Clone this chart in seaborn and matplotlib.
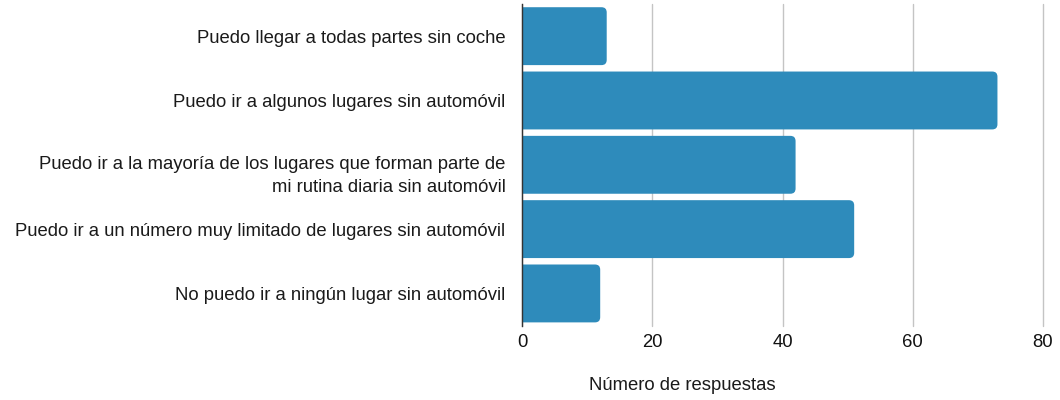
import matplotlib
matplotlib.use('Agg')
import matplotlib.pyplot as plt
import matplotlib.transforms as mtransforms
import seaborn as sns
import pandas as pd
from matplotlib.patches import FancyBboxPatch

# data
respuestas = [
    'Puedo llegar a todas partes sin coche',
    'Puedo ir a algunos lugares sin automóvil',
    'Puedo ir a la mayoría de los lugares que forman parte de\nmi rutina diaria sin automóvil',
    'Puedo ir a un número muy limitado de lugares sin automóvil',
    'No puedo ir a ningún lugar sin automóvil',
]
conteos = [13, 73, 42, 51, 12]
ticks_x = [0, 20, 40, 60, 80]

df = pd.DataFrame({'respuesta': respuestas, 'n': conteos})

sns.set_style('white')
plt.rcParams['font.family'] = ['Liberation Sans', 'DejaVu Sans']

fig = plt.figure(figsize=(10.6, 4), dpi=100)
ax = fig.add_axes([0.4925, 0.186, 0.4915, 0.804])

sns.barplot(data=df, y='respuesta', x='n', orient='h', color='#2e8bbb',
            saturation=1, width=0.9, ax=ax)

# swap the plain bars for ones with rounded right corners
bar_color = '#2e8bbb'
for p in list(ax.patches):
    x0, y0 = p.get_x(), p.get_y()
    w, h = p.get_width(), p.get_height()
    p.remove()
    rb = FancyBboxPatch((x0 - 2, y0), w + 2, h,
                        boxstyle='round,pad=0,rounding_size=0.8',
                        mutation_aspect=0.101, fc=bar_color, ec='none',
                        zorder=2, clip_on=True)
    ax.add_patch(rb)

ax.set_xlim(0, 80)
ax.set_ylim(4.5, -0.5)
ax.set_xticks(ticks_x)
ax.xaxis.grid(True, color='#c4c4c4', linewidth=1)
for gl in ax.get_xgridlines():
    gl.set_clip_on(False)
ax.set_axisbelow(True)
for s in ['top', 'right', 'bottom']:
    ax.spines[s].set_visible(False)
ax.spines['left'].set_color('#333333')
ax.spines['left'].set_linewidth(1)
ax.spines['left'].set_zorder(3)

ax.tick_params(axis='y', length=0, pad=12, labelsize=13.3, labelcolor='#1a1a1a')
ax.tick_params(axis='x', length=0, pad=6, labelsize=13.3, labelcolor='#111111')

# two-line label sits a little lower in the original
shift = mtransforms.ScaledTranslation(0, -6 / 100, fig.dpi_scale_trans)
for t in ax.get_yticklabels():
    t.set_linespacing(1.5)
for tk in ax.yaxis.get_major_ticks():
    if '\n' in tk.label1.get_text():
        tk.label1.set_transform(tk.label1.get_transform() + shift)
ax.set_ylabel('')
ax.set_xlabel('')

fig.text(682 / 1060, 1 - 386 / 400, 'Número de respuestas', ha='center', va='center',
         fontsize=13.3, color='#1a1a1a')

fig.savefig('out.png', dpi=100)
